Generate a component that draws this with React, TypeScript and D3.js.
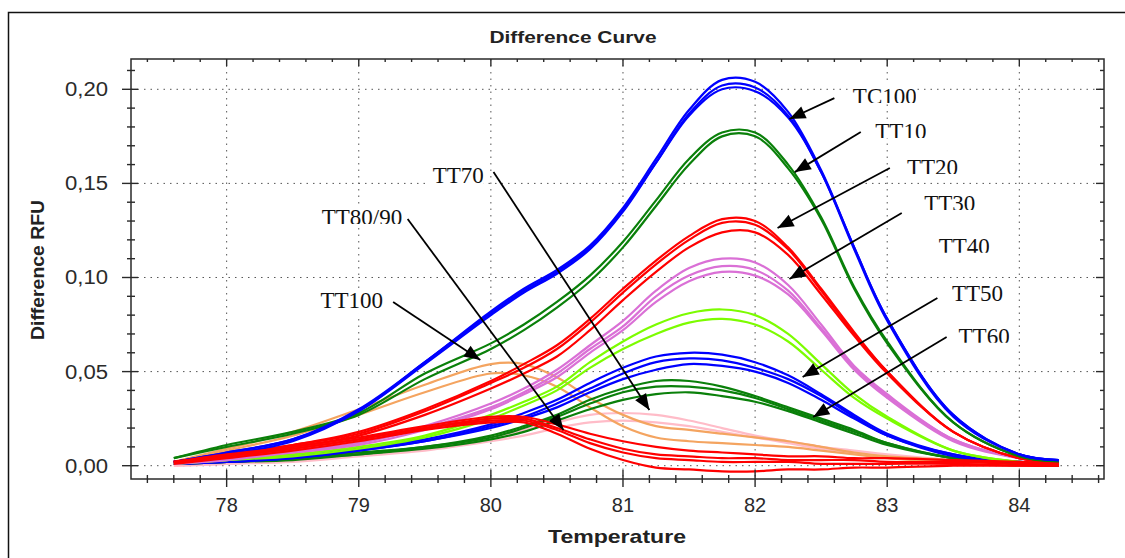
import React from 'react';
import * as d3 from 'd3';

// temperatures shared by every melt curve (°C)
const TEMPS = [77.6, 78, 78.5, 79, 79.5, 80, 80.25, 80.5, 80.75, 81, 81.25, 81.5, 81.75, 82, 82.25, 82.5, 82.75, 83, 83.5, 84, 84.3];

// difference RFU, one array per replicate
const TC100_A = [0.002, 0.007, 0.014, 0.030, 0.055, 0.082, 0.094, 0.104, 0.117, 0.137, 0.163, 0.189, 0.205, 0.204, 0.188, 0.157, 0.116, 0.078, 0.027, 0.006, 0.003];
const TC100_B = [0.002, 0.006, 0.013, 0.029, 0.054, 0.080, 0.092, 0.102, 0.115, 0.135, 0.161, 0.187, 0.202, 0.201, 0.186, 0.156, 0.115, 0.077, 0.026, 0.006, 0.003];
const TC100_C = [0.002, 0.007, 0.014, 0.029, 0.055, 0.081, 0.093, 0.103, 0.116, 0.136, 0.161, 0.186, 0.200, 0.199, 0.185, 0.156, 0.116, 0.078, 0.027, 0.006, 0.003];
const TT10_A = [0.004, 0.011, 0.018, 0.028, 0.049, 0.065, 0.075, 0.087, 0.101, 0.119, 0.141, 0.163, 0.177, 0.177, 0.160, 0.132, 0.095, 0.066, 0.023, 0.005, 0.002];
const TT10_B = [0.004, 0.010, 0.017, 0.027, 0.046, 0.062, 0.072, 0.084, 0.098, 0.116, 0.138, 0.160, 0.175, 0.175, 0.158, 0.131, 0.094, 0.065, 0.023, 0.005, 0.002];
const TT20_A = [0.002, 0.006, 0.011, 0.018, 0.030, 0.045, 0.054, 0.064, 0.078, 0.094, 0.109, 0.122, 0.131, 0.130, 0.116, 0.094, 0.071, 0.050, 0.018, 0.004, 0.002];
const TT20_B = [0.002, 0.006, 0.011, 0.017, 0.029, 0.044, 0.052, 0.062, 0.076, 0.092, 0.107, 0.120, 0.129, 0.128, 0.115, 0.093, 0.070, 0.050, 0.018, 0.004, 0.002];
const TT20_C = [0.002, 0.005, 0.010, 0.016, 0.027, 0.041, 0.049, 0.058, 0.072, 0.088, 0.103, 0.116, 0.124, 0.124, 0.112, 0.091, 0.069, 0.049, 0.018, 0.004, 0.002];
const TT30_A = [0.001, 0.004, 0.008, 0.012, 0.021, 0.033, 0.041, 0.051, 0.064, 0.077, 0.093, 0.105, 0.110, 0.108, 0.096, 0.075, 0.053, 0.038, 0.014, 0.004, 0.002];
const TT30_B = [0.001, 0.004, 0.007, 0.012, 0.020, 0.031, 0.039, 0.049, 0.062, 0.074, 0.090, 0.101, 0.106, 0.104, 0.093, 0.073, 0.052, 0.037, 0.014, 0.004, 0.002];
const TT30_C = [0.001, 0.003, 0.007, 0.011, 0.019, 0.030, 0.038, 0.047, 0.060, 0.072, 0.087, 0.098, 0.103, 0.101, 0.091, 0.072, 0.051, 0.036, 0.013, 0.004, 0.002];
const TT40_A = [0.001, 0.003, 0.006, 0.010, 0.016, 0.027, 0.034, 0.042, 0.055, 0.066, 0.075, 0.081, 0.083, 0.080, 0.070, 0.054, 0.038, 0.026, 0.008, 0.002, 0.001];
const TT40_B = [0.001, 0.003, 0.005, 0.009, 0.015, 0.025, 0.032, 0.040, 0.052, 0.062, 0.070, 0.076, 0.078, 0.075, 0.066, 0.051, 0.036, 0.025, 0.008, 0.002, 0.001];
const TT50_A = [0.001, 0.003, 0.005, 0.009, 0.014, 0.022, 0.028, 0.035, 0.044, 0.052, 0.058, 0.060, 0.059, 0.055, 0.048, 0.038, 0.027, 0.017, 0.006, 0.002, 0.001];
const TT50_B = [0.001, 0.002, 0.004, 0.008, 0.013, 0.021, 0.026, 0.033, 0.041, 0.049, 0.055, 0.057, 0.056, 0.052, 0.046, 0.037, 0.026, 0.016, 0.006, 0.002, 0.001];
const TT50_C = [0.001, 0.002, 0.004, 0.008, 0.013, 0.020, 0.025, 0.031, 0.039, 0.046, 0.051, 0.054, 0.053, 0.050, 0.044, 0.035, 0.025, 0.016, 0.005, 0.002, 0.001];
const TT60_A = [0.001, 0.002, 0.004, 0.007, 0.010, 0.016, 0.021, 0.027, 0.035, 0.041, 0.045, 0.045, 0.042, 0.037, 0.031, 0.025, 0.019, 0.012, 0.004, 0.001, 0.000];
const TT60_B = [0.001, 0.002, 0.004, 0.006, 0.010, 0.015, 0.020, 0.026, 0.033, 0.039, 0.042, 0.042, 0.040, 0.036, 0.030, 0.024, 0.018, 0.012, 0.004, 0.001, 0.000];
const TT60_C = [0.001, 0.002, 0.003, 0.006, 0.009, 0.014, 0.018, 0.024, 0.030, 0.035, 0.038, 0.039, 0.037, 0.034, 0.029, 0.023, 0.017, 0.011, 0.004, 0.001, 0.000];
const TT70_A = [0.000, 0.001, 0.003, 0.006, 0.009, 0.015, 0.019, 0.023, 0.027, 0.028, 0.027, 0.024, 0.020, 0.016, 0.013, 0.010, 0.008, 0.006, 0.003, 0.001, 0.000];
const TT70_B = [0.000, 0.001, 0.002, 0.005, 0.008, 0.013, 0.016, 0.020, 0.023, 0.024, 0.023, 0.021, 0.018, 0.015, 0.012, 0.009, 0.007, 0.005, 0.002, 0.001, 0.000];
const TT80_A = [0.002, 0.006, 0.010, 0.015, 0.021, 0.026, 0.026, 0.022, 0.017, 0.013, 0.010, 0.008, 0.007, 0.006, 0.005, 0.005, 0.004, 0.004, 0.003, 0.002, 0.001];
const TT80_B = [0.002, 0.005, 0.009, 0.014, 0.020, 0.025, 0.025, 0.020, 0.014, 0.009, 0.006, 0.005, 0.004, 0.004, 0.003, 0.003, 0.003, 0.002, 0.002, 0.001, 0.001];
const TT80_C = [0.002, 0.005, 0.009, 0.014, 0.020, 0.024, 0.024, 0.019, 0.012, 0.007, 0.004, 0.003, 0.002, 0.002, 0.002, 0.001, 0.001, 0.001, 0.001, 0.000, 0.000];
const TT80_D = [0.001, 0.004, 0.008, 0.013, 0.019, 0.023, 0.023, 0.017, 0.009, 0.003, -0.001, -0.002, -0.003, -0.003, -0.002, -0.002, -0.001, -0.001, 0.000, 0.000, 0.000];
const TT100_A = [0.002, 0.009, 0.018, 0.030, 0.043, 0.054, 0.054, 0.047, 0.036, 0.027, 0.021, 0.019, 0.017, 0.015, 0.013, 0.010, 0.007, 0.005, 0.003, 0.001, 0.000];
const TT100_B = [0.002, 0.008, 0.016, 0.027, 0.039, 0.049, 0.048, 0.042, 0.031, 0.021, 0.015, 0.013, 0.012, 0.011, 0.010, 0.008, 0.006, 0.004, 0.002, 0.001, 0.000];

const BLUE = '#0000ff';
const GREEN = '#0a800a';
const RED = '#ff0000';
const ORCHID = '#da70d6';
const LIME = '#7cfc00';
const ORANGE = '#f4a460';
const PINK = '#ffbcc8';

// drawing order: back to front
const SERIES: { color: string; values: number[] }[] = [
  { color: PINK, values: TT70_A },
  { color: PINK, values: TT70_B },
  { color: ORANGE, values: TT100_A },
  { color: ORANGE, values: TT100_B },
  { color: GREEN, values: TT60_A },
  { color: GREEN, values: TT60_B },
  { color: GREEN, values: TT60_C },
  { color: BLUE, values: TT50_A },
  { color: BLUE, values: TT50_B },
  { color: BLUE, values: TT50_C },
  { color: LIME, values: TT40_A },
  { color: LIME, values: TT40_B },
  { color: ORCHID, values: TT30_A },
  { color: ORCHID, values: TT30_B },
  { color: ORCHID, values: TT30_C },
  { color: RED, values: TT20_A },
  { color: RED, values: TT20_B },
  { color: RED, values: TT20_C },
  { color: GREEN, values: TT10_A },
  { color: GREEN, values: TT10_B },
  { color: BLUE, values: TC100_A },
  { color: BLUE, values: TC100_B },
  { color: BLUE, values: TC100_C },
  { color: RED, values: TT80_A },
  { color: RED, values: TT80_B },
  { color: RED, values: TT80_C },
  { color: RED, values: TT80_D },
];

// annotations in data coords: label anchor, arrow start, arrow tip; cut = glyphs clipped at baseline
const NOTES: { text: string; at: [number, number]; from?: [number, number]; to?: [number, number]; cut?: boolean }[] = [
  { text: 'TC100', at: [82.74, 0.1922], from: [82.60, 0.1953], to: [82.26, 0.1842], cut: true },
  { text: 'TT10', at: [82.91, 0.1736], from: [82.80, 0.1773], to: [82.30, 0.1560], cut: true },
  { text: 'TT20', at: [83.15, 0.1545], from: [83.02, 0.1582], to: [82.17, 0.1263], cut: true },
  { text: 'TT30', at: [83.28, 0.1354], from: [83.11, 0.1343], to: [82.26, 0.0992], cut: true },
  { text: 'TT40', at: [83.39, 0.1126], cut: true },
  { text: 'TT50', at: [83.49, 0.0875], from: [83.38, 0.0891], to: [82.36, 0.0471] },
  { text: 'TT60', at: [83.54, 0.0648], from: [83.45, 0.0684], to: [82.44, 0.0259], cut: true },
  { text: 'TT70', at: [79.56, 0.1501], from: [80.02, 0.1561], to: [81.20, 0.0296] },
  { text: 'TT80/90', at: [78.72, 0.1279], from: [79.37, 0.1311], to: [80.55, 0.0190], cut: true },
  { text: 'TT100', at: [78.71, 0.0838], from: [79.26, 0.0870], to: [79.92, 0.0562] },
];

const X_MAJOR = [78, 79, 80, 81, 82, 83, 84];
const X_MINOR = [77.4, 77.6, 77.8, 78.2, 78.4, 78.6, 78.8, 79.2, 79.4, 79.6, 79.8, 80.2, 80.4, 80.6, 80.8, 81.2, 81.4, 81.6, 81.8, 82.2, 82.4, 82.6, 82.8, 83.2, 83.4, 83.6, 83.8, 84.2, 84.4, 84.6];
const Y_MAJOR = [0, 0.05, 0.1, 0.15, 0.2];
const Y_MINOR = [0.01, 0.02, 0.03, 0.04, 0.06, 0.07, 0.08, 0.09, 0.11, 0.12, 0.13, 0.14, 0.16, 0.17, 0.18, 0.19, 0.21];

const W = 1125;
const H = 558;
const M = { left: 131, right: 1104, top: 59, bottom: 479 };
const SANS = '"Liberation Sans", Arial, sans-serif';
const SERIF = '"Liberation Serif", "Times New Roman", serif';
const AXIS = '#2a2a2a';

export default function App() {
  const x = d3.scaleLinear().domain([77.276, 84.641]).range([M.left, M.right]);
  const y = d3.scaleLinear().domain([-0.00707, 0.2161]).range([M.bottom, M.top]);
  const line = d3.line<number>()
    .x((_, i) => x(TEMPS[i]))
    .y(d => y(d))
    .curve(d3.curveCatmullRom.alpha(0.5));
  const fmt = (v: number) => d3.format('.2f')(v).replace('.', ',');

  const arrowHead = (from: [number, number], to: [number, number]) => {
    const x1 = x(from[0]), y1 = y(from[1]), x2 = x(to[0]), y2 = y(to[1]);
    const len = Math.hypot(x2 - x1, y2 - y1);
    const ux = (x2 - x1) / len, uy = (y2 - y1) / len;
    const bx = x2 - ux * 16, by = y2 - uy * 16;
    const nx = -uy * 6.5, ny = ux * 6.5;
    return `M${x2},${y2}L${bx + nx},${by + ny}L${bx - nx},${by - ny}Z`;
  };

  return (
    <svg width={W} height={H} style={{ position: 'absolute', left: 0, top: 0, background: '#fff' }}>
      <defs>
        <clipPath id="plot"><rect x={M.left} y={M.top} width={M.right - M.left} height={M.bottom - M.top} /></clipPath>
        {NOTES.map((n, i) => {
          const bx = x(n.at[0]), by = y(n.at[1]);
          return (
            <clipPath id={`note${i}`} key={i}>
              <rect x={bx - 3} y={by - 19} width={n.text.length * 12 + 6} height={n.cut ? 18 : 25} />
            </clipPath>
          );
        })}
      </defs>

      {/* outer frame */}
      <path d={`M8.5,${H}V12.5H${W}`} fill="none" stroke="#111" strokeWidth={1.5} />

      <text x={573} y={43} textAnchor="middle" fontFamily={SANS} fontWeight="bold" fontSize={17}
        textLength={167} lengthAdjust="spacingAndGlyphs" fill="#222">Difference Curve</text>

      {/* grid */}
      <g stroke="#555" strokeWidth={1} strokeDasharray="1.5,5">
        {X_MAJOR.map(t => <line key={t} x1={x(t)} x2={x(t)} y1={M.top} y2={M.bottom} />)}
        {Y_MAJOR.map(v => <line key={v} x1={M.left} x2={M.right} y1={y(v)} y2={y(v)} />)}
      </g>

      {/* curves */}
      <g clipPath="url(#plot)" fill="none" strokeWidth={2.2}>
        {SERIES.map((s, i) => <path key={i} d={line(s.values) || ''} stroke={s.color} />)}
      </g>

      {/* plot frame and ticks */}
      <rect x={M.left} y={M.top} width={M.right - M.left} height={M.bottom - M.top} fill="none" stroke={AXIS} strokeWidth={1.5} />
      <g stroke={AXIS} strokeWidth={1.4}>
        {X_MAJOR.map(t => <line key={`bM${t}`} x1={x(t)} x2={x(t)} y1={M.bottom - 9} y2={M.bottom + 8} />)}
        {X_MINOR.map(t => <line key={`bm${t}`} x1={x(t)} x2={x(t)} y1={M.bottom - 4} y2={M.bottom + 4} />)}
        {X_MAJOR.map(t => <line key={`tM${t}`} x1={x(t)} x2={x(t)} y1={M.top} y2={M.top + 7} />)}
        {X_MINOR.map(t => <line key={`tm${t}`} x1={x(t)} x2={x(t)} y1={M.top} y2={M.top + 3} />)}
        {Y_MAJOR.map(v => <line key={`lM${v}`} x1={M.left - 9} x2={M.left + 7} y1={y(v)} y2={y(v)} />)}
        {Y_MINOR.map(v => <line key={`lm${v}`} x1={M.left - 4} x2={M.left + 4} y1={y(v)} y2={y(v)} />)}
        {Y_MAJOR.map(v => <line key={`rM${v}`} x1={M.right - 8} x2={M.right} y1={y(v)} y2={y(v)} />)}
        {Y_MINOR.map(v => <line key={`rm${v}`} x1={M.right - 4} x2={M.right} y1={y(v)} y2={y(v)} />)}
      </g>

      {/* tick labels */}
      <g fontFamily={SANS} fontSize={20} fill="#2a2a2a">
        {X_MAJOR.map(t => <text key={t} x={x(t)} y={512} textAnchor="middle">{t}</text>)}
        {Y_MAJOR.map(v => (
          <text key={v} x={108} y={y(v) + 7} textAnchor="end" textLength={43} lengthAdjust="spacingAndGlyphs">{fmt(v)}</text>
        ))}
      </g>

      <text x={617} y={543} textAnchor="middle" fontFamily={SANS} fontWeight="bold" fontSize={19}
        textLength={138} lengthAdjust="spacingAndGlyphs" fill="#222">Temperature</text>
      <text transform="translate(44,270) rotate(-90)" textAnchor="middle" fontFamily={SANS} fontWeight="bold" fontSize={18}
        textLength={140} lengthAdjust="spacingAndGlyphs" fill="#222">Difference RFU</text>

      {/* annotations */}
      {NOTES.map((n, i) => {
        const bx = x(n.at[0]), by = y(n.at[1]);
        return (
          <g key={n.text}>
            <rect x={bx - 3} y={by - 19} width={n.text.length * 12 + 6} height={n.cut ? 18 : 25} fill="#fff" />
            <text x={bx} y={by} fontFamily={SERIF} fontSize={23} fill="#111" clipPath={`url(#note${i})`}>{n.text}</text>
          </g>
        );
      })}
      {NOTES.filter(n => n.from && n.to).map(n => (
        <g key={`a${n.text}`}>
          <line x1={x(n.from![0])} y1={y(n.from![1])} x2={x(n.to![0])} y2={y(n.to![1])} stroke="#000" strokeWidth={1.8} />
          <path d={arrowHead(n.from!, n.to!)} fill="#000" />
        </g>
      ))}
    </svg>
  );
}
